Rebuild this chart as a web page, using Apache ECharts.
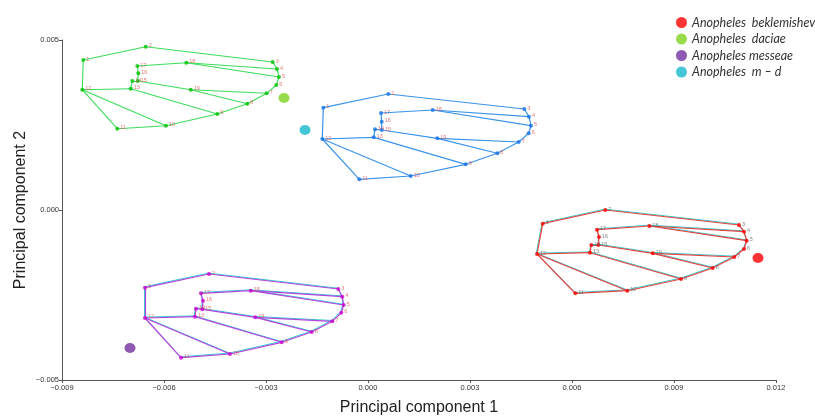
<!DOCTYPE html>
<html><head><meta charset="utf-8">
<script src="https://cdn.jsdelivr.net/npm/echarts@6/dist/echarts.min.js"></script>
<style>html,body{margin:0;padding:0;background:#fff}#c{width:815px;height:418px}</style>
</head><body><div id="c"></div>
<script>
const landmarks = ['1','2','3','4','5','6','7','8','9','10','11','12','13','14','15','16','17','18','19'];
const edges = [[1,2],[2,3],[3,4],[4,5],[5,6],[6,7],[7,8],[8,9],[9,10],[10,11],[11,12],[12,1],[12,10],[12,13],[13,14],[14,15],[15,16],[16,17],[17,18],[18,4],[18,5],[15,19],[19,7],[19,8],[13,9]];

const blueX = [-0.001315,0.000597,0.004597,0.004735,0.004794,0.004726,0.004432,0.003803,0.002874,0.001256,-0.000256,-0.001344,0.000168,0.000206,0.000403,0.000403,0.000382,0.001903,0.002038];
const blueY = [0.003009,0.003412,0.002971,0.002744,0.002479,0.002256,0.002000,0.001668,0.001344,0.001000,0.000903,0.002088,0.002138,0.002374,0.002353,0.002597,0.002853,0.002941,0.002109];

const greenX = [-0.008374,-0.006538,-0.002803,-0.002676,-0.002618,-0.002697,-0.002979,-0.003550,-0.004432,-0.005941,-0.007374,-0.008403,-0.006979,-0.006932,-0.006774,-0.006756,-0.006785,-0.005344,-0.005215];
const greenY = [0.004412,0.004803,0.004353,0.004147,0.003912,0.003676,0.003432,0.003126,0.002824,0.002479,0.002391,0.003538,0.003568,0.003794,0.003794,0.004021,0.004235,0.004332,0.003538];

const redX = [0.005138,0.006979,0.010912,0.011059,0.011138,0.011059,0.010774,0.010138,0.009206,0.007626,0.006097,0.004971,0.006529,0.006568,0.006774,0.006794,0.006735,0.008274,0.008374];
const redY = [-0.000403,0.000000,-0.000441,-0.000638,-0.000903,-0.001147,-0.001382,-0.001706,-0.002029,-0.002374,-0.002450,-0.001294,-0.001256,-0.001029,-0.001029,-0.000794,-0.000579,-0.000471,-0.001274];

const purpleX = [-0.006559,-0.004676,-0.000874,-0.000756,-0.000715,-0.000785,-0.001050,-0.001656,-0.002538,-0.004059,-0.005500,-0.006559,-0.005088,-0.005059,-0.004874,-0.004853,-0.004912,-0.003450,-0.003315];
const purpleY = [-0.002285,-0.001882,-0.002324,-0.002550,-0.002794,-0.003021,-0.003274,-0.003588,-0.003891,-0.004235,-0.004344,-0.003176,-0.003138,-0.002903,-0.002921,-0.002668,-0.002450,-0.002374,-0.003156];

const cyanRedX = [0.005118,0.006969,0.010902,0.011049,0.011128,0.011049,0.010764,0.010128,0.009196,0.007616,0.006087,0.004951,0.006519,0.006558,0.006764,0.006784,0.006725,0.008264,0.008364];
const cyanRedY = [-0.000378,0.000025,-0.000416,-0.000613,-0.000878,-0.001122,-0.001357,-0.001681,-0.002004,-0.002349,-0.002425,-0.001269,-0.001231,-0.001004,-0.001004,-0.000769,-0.000554,-0.000446,-0.001249];

const cyanPurpleX = [-0.006579,-0.004696,-0.000894,-0.000776,-0.000735,-0.000805,-0.001070,-0.001676,-0.002558,-0.004079,-0.005520,-0.006579,-0.005108,-0.005079,-0.004894,-0.004873,-0.004932,-0.003470,-0.003335];
const cyanPurpleY = [-0.002260,-0.001857,-0.002299,-0.002525,-0.002769,-0.002996,-0.003249,-0.003563,-0.003866,-0.004210,-0.004319,-0.003151,-0.003113,-0.002878,-0.002896,-0.002643,-0.002425,-0.002349,-0.003131];

const groupNames = ['Anopheles  beklemishevi','Anopheles  daciae','Anopheles messeae','Anopheles  m \u2013 d'];
const groupX = [0.011471,-0.002471,-0.007000,-0.001853];
const groupY = [-0.001412,0.003294,-0.004059,0.002353];
const groupColors = ['#ff0000','#7ed321','#7030a0','#17b8cc'];

const xTicks = [-0.009,-0.006,-0.003,0.000,0.003,0.006,0.009,0.012];
const yTicks = [-0.005,0.000,0.005];

function fmt(v){ const s = Math.abs(v).toFixed(3); return v < -1e-9 ? '\u2212' + s : s; }

function wire(xs, ys, color, width, z){
  return {
    type:'lines', coordinateSystem:'cartesian2d', silent:true, z:z,
    lineStyle:{color:color, width:width, opacity:1},
    data: edges.map(e => ({coords:[[xs[e[0]-1],ys[e[0]-1]],[xs[e[1]-1],ys[e[1]-1]]]}))
  };
}
function pts(xs, ys, color, labelColor, z){
  return {
    type:'scatter', silent:true, z:z, symbolSize:4,
    itemStyle:{color:color},
    label:{show:true, position:'right', distance:1, offset:[0,-1], fontSize:5.5, color:labelColor, fontFamily:'Liberation Sans',
      formatter: p => landmarks[p.dataIndex]},
    data: xs.map((x,i)=>[x, ys[i]])
  };
}

const series = [
  wire(cyanRedX, cyanRedY, '#2fd0d0', 1, 1),
  wire(cyanPurpleX, cyanPurpleY, '#2fd0d0', 1, 1),
  wire(greenX, greenY, '#3ddc5a', 1.1, 2),
  wire(blueX, blueY, '#3a93ea', 1.2, 2),
  wire(redX, redY, '#e8413f', 1.2, 2),
  wire(purpleX, purpleY, '#b444e0', 1.2, 2),
  pts(greenX, greenY, '#00c000', '#e05555', 3),
  pts(blueX, blueY, '#1670e6', '#e05555', 3),
  pts(redX, redY, '#ff0000', '#666666', 3),
  pts(purpleX, purpleY, '#cc00cc', '#e05555', 3)
];
groupNames.forEach((n,i)=>{
  series.push({type:'scatter', name:n, z:4, symbol:'circle', symbolSize:[11,10],
    itemStyle:{color:groupColors[i]}, data:[[groupX[i], groupY[i]]]});
});

const chart = echarts.init(document.getElementById('c'), null, {renderer:'canvas'});
chart.setOption({
  animation:false,
  backgroundColor:'#ffffff',
  grid:{left:62, right:39, top:40, bottom:38, containLabel:false, outerBoundsMode:'none'},
  legend:{data:groupNames.map(n=>({name:n, icon:'circle'})), orient:'vertical', left:671, top:11, itemWidth:11, itemHeight:11, itemGap:3.5,
    textStyle:{fontFamily:'Lato', fontStyle:'italic', fontSize:12.5, color:'#333'}},
  xAxis:{type:'value', min:-0.009, max:0.012, interval:0.003,
    name:'Principal component 1', nameLocation:'middle', nameGap:20, nameMoveOverlap:false,
    nameTextStyle:{fontFamily:'Liberation Sans', fontSize:16, color:'#222'},
    axisLine:{show:true, onZero:false, lineStyle:{color:'#555', width:1}},
    axisTick:{show:true, length:3, lineStyle:{color:'#555'}},
    axisLabel:{fontFamily:'Liberation Sans Narrow, Liberation Sans', fontSize:7.5, color:'#333', margin:4,
      formatter: v => { const t = xTicks.find(a => Math.abs(a - v) < 1e-9); return fmt(t === undefined ? v : t); }},
    splitLine:{show:false}},
  yAxis:{type:'value', min:-0.005, max:0.005, interval:0.005,
    name:'Principal component 2', nameLocation:'middle', nameGap:33, nameRotate:90, nameMoveOverlap:false,
    nameTextStyle:{fontFamily:'Liberation Sans', fontSize:16, color:'#222'},
    axisLine:{show:true, onZero:false, lineStyle:{color:'#555', width:1}},
    axisTick:{show:true, length:3, lineStyle:{color:'#555'}},
    axisLabel:{fontFamily:'Liberation Sans Narrow, Liberation Sans', fontSize:7.5, color:'#333', margin:3,
      formatter: v => { const t = yTicks.find(a => Math.abs(a - v) < 1e-9); return fmt(t === undefined ? v : t); }},
    splitLine:{show:false}},
  series: series
});
</script>
</body></html>
